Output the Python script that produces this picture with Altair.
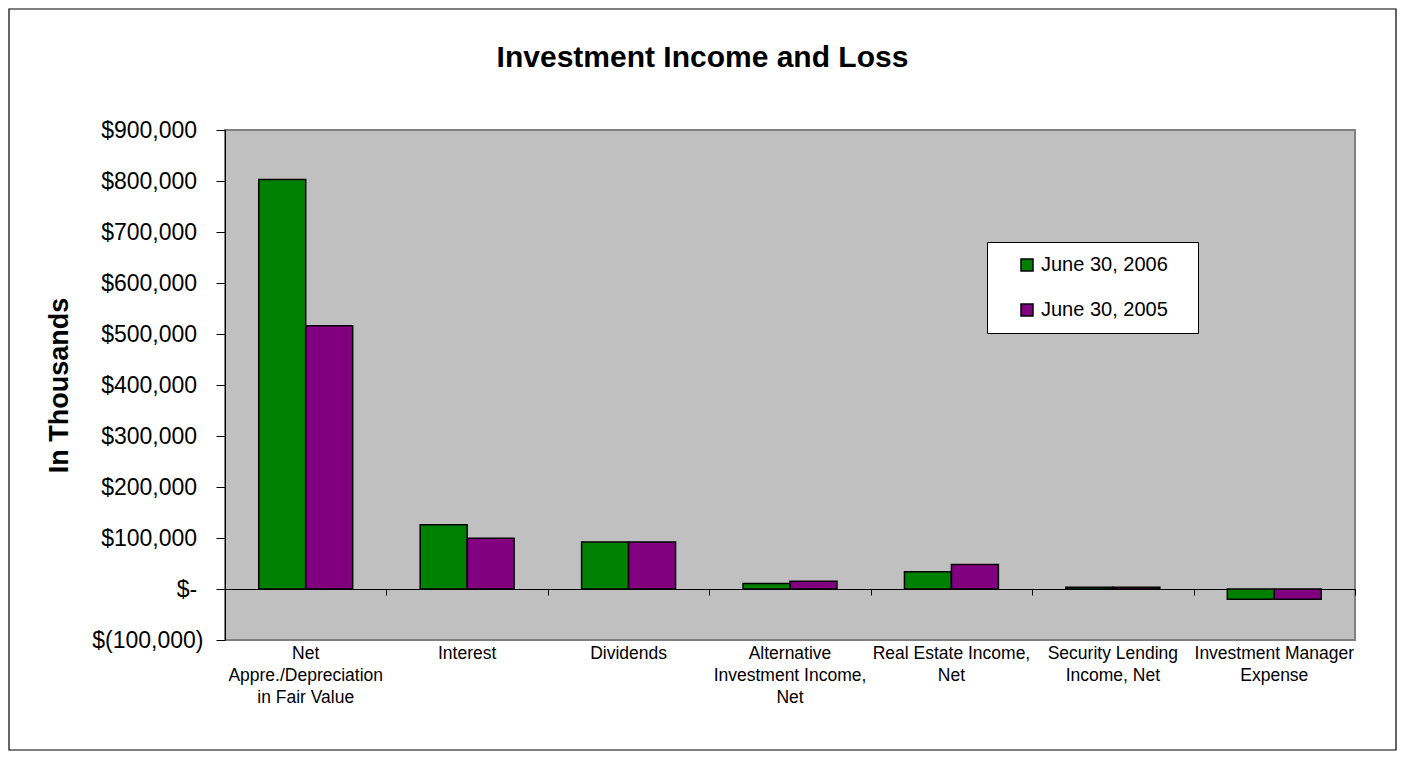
import altair as alt
import pandas as pd

categories = [
    "Net\nAppre./Depreciation\nin Fair Value",
    "Interest",
    "Dividends",
    "Alternative\nInvestment Income,\nNet",
    "Real Estate Income,\nNet",
    "Security Lending\nIncome, Net",
    "Investment Manager\nExpense",
]
series = ["June 30, 2006", "June 30, 2005"]
values_2006 = [803000, 126000, 92000, 11000, 34000, 3500, -20000]
values_2005 = [516000, 99500, 92000, 15000, 48000, 3500, -20000]
colors = ["#008000", "#800080"]
y_ticks = [-100000, 0, 100000, 200000, 300000, 400000, 500000, 600000, 700000, 800000, 900000]

rows = []
for c, v in zip(categories, values_2006):
    rows.append({"category": c, "series": series[0], "value": v})
for c, v in zip(categories, values_2005):
    rows.append({"category": c, "series": series[1], "value": v})
df = pd.DataFrame(rows)

FONT = "Liberation Sans"
W, H = 1130, 510
PAD = "\u00a0\u200b"

y_label_expr = (
    "datum.value == 0 ? '$-" + PAD + "' : (datum.value < 0 ? '$(' + format(-datum.value, ',') + ')' : "
    "'$' + format(datum.value, ',') + '" + PAD + "')"
)

y_enc = alt.Y(
    "value:Q",
    scale=alt.Scale(domain=[-100000, 900000], nice=False, zero=False),
    axis=alt.Axis(
        values=y_ticks,
        labelExpr=y_label_expr,
        title="In Thousands",
        titleFont=FONT,
        titleFontSize=27,
        titleFontWeight="bold",
        titleColor="black",
        titlePadding=18,
        labelFont=FONT,
        labelFontSize=23,
        labelColor="black",
        labelPadding=13,
        tickSize=9,
        tickColor="black",
        domainColor="black",
        domainWidth=1,
        grid=False,
    ),
)

bars = alt.Chart(df).mark_bar(stroke="black", strokeWidth=1.5).encode(
    x=alt.X(
        "category:N",
        sort=categories,
        scale=alt.Scale(paddingInner=0.418, paddingOuter=0.209),
        axis=alt.Axis(
            title=None,
            labelAngle=0,
            labelExpr="split(datum.label, '\\n')",
            labelFont=FONT,
            labelFontSize=17.5,
            labelLineHeight=22,
            labelColor="black",
            labelPadding=4,
            ticks=False,
            domain=False,
            labelLimit=300,
        ),
    ),
    xOffset=alt.XOffset("series:N", sort=series, scale=alt.Scale(paddingInner=0, paddingOuter=0)),
    y=y_enc,
    color=alt.Color(
        "series:N",
        sort=series,
        scale=alt.Scale(domain=series, range=colors),
        legend=alt.Legend(
            title=None,
            orient="none",
            legendX=762,
            legendY=112,
            fillColor="white",
            strokeColor="black",
            padding=13,
            symbolOffset=17,
            symbolType="square",
            symbolSize=144,
            symbolStrokeColor="black",
            symbolStrokeWidth=1.5,
            labelFont=FONT,
            labelFontSize=20,
            labelColor="black",
            labelOffset=4,
            rowPadding=25,
            labelExpr="datum.label + '\u00a0\u00a0\u00a0\u200b'",
        ),
    ),
)

zero_axis = alt.Chart(df).mark_bar(opacity=0).encode(
    x=alt.X(
        "category:N",
        sort=categories,
        scale=alt.Scale(paddingInner=0, paddingOuter=0),
        axis=alt.Axis(
            orient="bottom",
            offset=-51,
            title=None,
            labels=False,
            domain=True,
            domainColor="black",
            domainWidth=1,
            ticks=True,
            tickBand="extent",
            tickSize=6,
            tickColor="black",
            grid=False,
        ),
    ),
    y=alt.datum(0),
    y2=alt.datum(0),
)

frame = alt.Chart(pd.DataFrame({"a": [0]})).mark_rect(
    fill="transparent", stroke="black", strokeWidth=1.2
).encode(
    x=alt.value(-216),
    x2=alt.value(W + 41),
    y=alt.value(-121),
    y2=alt.value(H + 110),
)

chart = (
    alt.layer(bars, zero_axis, frame)
    .resolve_scale(x="independent")
    .properties(
        width=W,
        height=H,
        autosize=alt.AutoSizeParams(type="none"),
        padding={"left": 217, "top": 122, "right": 42, "bottom": 111},
        title=alt.TitleParams(
            "Investment Income and Loss",
            font=FONT,
            fontSize=30,
            fontWeight="bold",
            color="black",
            anchor="middle",
            frame="bounds",
            offset=-65,
        ),
    )
    .configure(background="white")
    .configure_view(fill="#C0C0C0", stroke="#808080", strokeWidth=2)
)

chart.save("out.html", embed_options={"renderer": "svg", "actions": False})
